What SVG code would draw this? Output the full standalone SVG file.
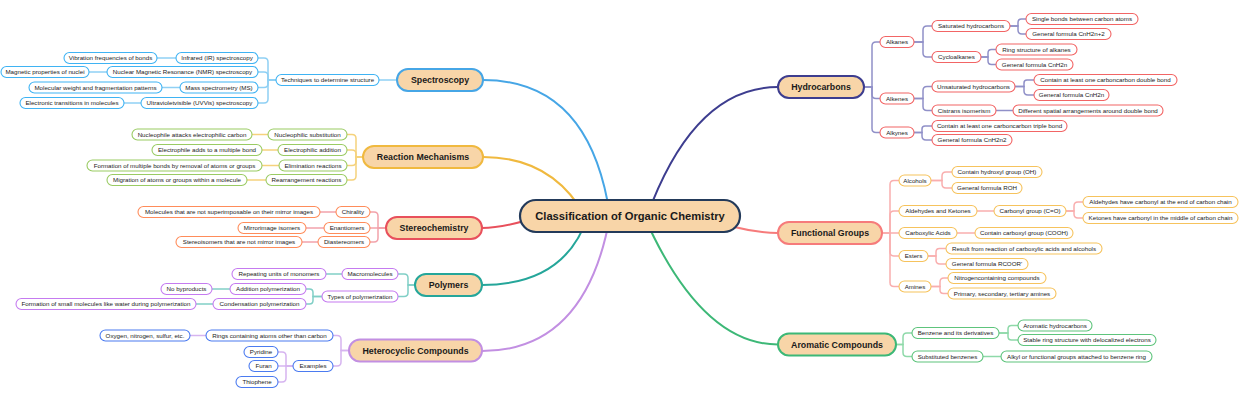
<svg xmlns="http://www.w3.org/2000/svg" width="1240" height="400" viewBox="0 0 1240 400">
<style>
text{font-family:"Liberation Sans",Arial,sans-serif;fill:#1a1a1a;text-anchor:middle}
.lf{fill:#fff;stroke-width:1.1}
.t{font-size:6.2px}
.l1{fill:#f8d5a8;stroke-width:2}
.l1t{font-size:8.8px;font-weight:bold}
.ct{font-size:11.2px;font-weight:bold}
.c path{fill:none;stroke-width:1.5}
.m path{fill:none;stroke-width:2}
.s1{stroke:#8fd0f4}.s2{stroke:#f5d27c}.s3{stroke:#f2a2ab}.s4{stroke:#80cfc6}.s5{stroke:#d6b4f0}.s6{stroke:#9090c8}.s7{stroke:#f9aeae}.s8{stroke:#8ed9a9}
.n1 .lf{stroke:#3fb3f3}.n2 .lf{stroke:#9acb63}.n3 .lf{stroke:#ff8c5a}.n4 .lf{stroke:#c57bf0}.n5 .lf{stroke:#4b7bf0}.n6 .lf{stroke:#f26565}.n7 .lf{stroke:#f6c35d}.n8 .lf{stroke:#5ec47c}
</style>
<rect width="1240" height="400" fill="#fff"/>
<g id="connectors">
<g class="m">
<path d="M483,80 Q590,80 610,216" stroke="#46a6e6"/>
<path d="M483,157 Q552,157 585,216" stroke="#f0b93f"/>
<path d="M482,228 Q505,228 540,216" stroke="#e8505c"/>
<path d="M482,285 Q565,285 588,216" stroke="#25a69a"/>
<path d="M482,351 Q586,351 610,216" stroke="#c28fe2"/>
<path d="M778,87 Q694,87 647,216" stroke="#3d3d8f"/>
<path d="M778,233 Q745,233 700,216" stroke="#f67b7b"/>
<path d="M778,344.5 Q701,344.5 644,216" stroke="#3db877"/>
</g>
<g class="c">
<g class="s1">
<path d="M379,80 H397"/>
<path d="M258,58 H264 Q268,58 268,62 V80 H276"/>
<path d="M258,72 H264 Q268,72 268,76 V80 H276"/>
<path d="M258,87.5 H264 Q268,87.5 268,83.5 V80 H276"/>
<path d="M258,103 H264 Q268,103 268,99 V80 H276"/>
<path d="M157,58 H176"/><path d="M89,72 H107"/><path d="M162,87.5 H180"/><path d="M124,103 H141"/>
</g>
<g class="s2">
<path d="M347,134.5 H352 Q356,134.5 356,138.5 V157 H363"/>
<path d="M347,150 H352 Q356,150 356,154 V157 H363"/>
<path d="M347,165.5 H352 Q356,165.5 356,161.5 V157 H363"/>
<path d="M347,180 H352 Q356,180 356,176 V157 H363"/>
<path d="M252,134.5 H268"/><path d="M262,150 H278"/><path d="M262,165.5 H279"/><path d="M247,180 H266"/>
</g>
<g class="s3">
<path d="M370,212 H374 Q378,212 378,216 V228 H386"/>
<path d="M370,228 H386"/>
<path d="M370,242 H374 Q378,242 378,238 V228 H386"/>
<path d="M320,212 H336"/><path d="M306,228 H324"/><path d="M302,242 H318"/>
</g>
<g class="s4">
<path d="M398,274 H404 Q408,274 408,278 V285 H415"/>
<path d="M398,296.5 H404 Q408,296.5 408,292.5 V285 H415"/>
<path d="M326,274 H342"/>
<path d="M306,289 H309.5 Q313,289 313,292.5 V296.5 H322"/>
<path d="M306,304 H309.5 Q313,304 313,300.5 V296.5 H322"/>
<path d="M212,289 H230"/><path d="M196,304 H213"/>
</g>
<g class="s5">
<path d="M333,335.5 H337 Q341,335.5 341,339.5 V350.5 H349"/>
<path d="M333,366 H337 Q341,366 341,362 V350.5 H349"/>
<path d="M190,335.5 H206"/>
<path d="M278,352 H282 Q286,352 286,356 V366 H293"/>
<path d="M278,366 H293"/>
<path d="M278,382 H282 Q286,382 286,378 V366 H293"/>
</g>
<g class="s6">
<path d="M880,42 H876 Q872,42 872,46 V87 H864"/>
<path d="M880,98.5 H876 Q872,98.5 872,94.5 V87 H864"/>
<path d="M880,132.5 H876 Q872,132.5 872,128.5 V87 H864"/>
<path d="M932,26 H927 Q923,26 923,30 V42 H914"/>
<path d="M932,57 H927 Q923,57 923,53 V42 H914"/>
<path d="M1026,19 H1021.5 Q1018,19 1018,22.5 V26 H1010"/>
<path d="M1026,34 H1022 Q1018,34 1018,30 V26 H1010"/>
<path d="M996,49.5 H991.5 Q988,49.5 988,53 V57 H981"/>
<path d="M996,64.5 H991.5 Q988,64.5 988,61 V57 H981"/>
<path d="M932,86.5 H927 Q923,86.5 923,90.5 V98.5 H914"/>
<path d="M932,110.5 H927 Q923,110.5 923,106.5 V98.5 H914"/>
<path d="M1034,80 H1027 Q1024,80 1024,83 V86.5 H1015"/>
<path d="M1034,95 H1028 Q1024,95 1024,91 V86.5 H1015"/>
<path d="M996,110.5 H1013"/>
<path d="M932,126 H925 Q922,126 922,129 V132.5 H914"/>
<path d="M932,140 H926 Q922,140 922,136 V132.5 H914"/>
</g>
<g class="s7">
<path d="M899,180.5 H894 Q890,180.5 890,184.5 V233 H882"/>
<path d="M899,211 H894 Q890,211 890,215 V233 H882"/>
<path d="M899,233 H882"/>
<path d="M899,256 H894 Q890,256 890,252 V233 H882"/>
<path d="M899,286.5 H894 Q890,286.5 890,282.5 V233 H882"/>
<path d="M952,172 H946 Q942,172 942,176 V180.5 H931"/>
<path d="M952,188 H946 Q942,188 942,184 V180.5 H931"/>
<path d="M977,211 H994"/>
<path d="M1083,202 H1078 Q1074,202 1074,206 V211 H1066"/>
<path d="M1083,218 H1078 Q1074,218 1074,214 V211 H1066"/>
<path d="M957,233 H975"/>
<path d="M946,248.5 H939.5 Q936,248.5 936,252 V256 H928"/>
<path d="M946,264 H940 Q936,264 936,260 V256 H928"/>
<path d="M948,278 H944 Q940,278 940,282 V286.5 H931"/>
<path d="M948,293.5 H943.5 Q940,293.5 940,290 V286.5 H931"/>
</g>
<g class="s8">
<path d="M912,333 H907 Q903,333 903,337 V344.5 H896"/>
<path d="M912,356.5 H907 Q903,356.5 903,352.5 V344.5 H896"/>
<path d="M1018,325.5 H1011.5 Q1008,325.5 1008,329 V333 H999"/>
<path d="M1018,340 H1011.5 Q1008,340 1008,336.5 V333 H999"/>
<path d="M983,356.5 H1001"/>
</g>
</g>
</g>

<g id="root"><rect x="520" y="200" width="220" height="32" rx="16" fill="#f8d5a8" stroke="#233a5a" stroke-width="2.2"/><text class="ct" x="630" y="220">Classification of Organic Chemistry</text></g>

<g id="spectroscopy" class="n1">
<g id="n-spec"><rect class="l1" x="397" y="69" width="86" height="22" rx="11" stroke="#46a6e6"/><text class="l1t" x="440" y="83.1">Spectroscopy</text></g>
<g id="n-tech"><rect class="lf" x="276" y="74.5" width="103" height="11" rx="5.5"/><text class="t" x="327.5" y="82.2">Techniques to determine structure</text></g>
<g id="n-ir"><rect class="lf" x="176" y="52.5" width="82" height="11" rx="5.5"/><text class="t" x="217" y="60.2">Infrared (IR) spectroscopy</text></g>
<g id="n-vib"><rect class="lf" x="64" y="52.5" width="93" height="11" rx="5.5"/><text class="t" x="110.5" y="60.2">Vibration frequencies of bonds</text></g>
<g id="n-nmr"><rect class="lf" x="107" y="66.5" width="151" height="11" rx="5.5"/><text class="t" x="182.5" y="74.2">Nuclear Magnetic Resonance (NMR) spectroscopy</text></g>
<g id="n-mag"><rect class="lf" x="1" y="66.5" width="88" height="11" rx="5.5"/><text class="t" x="45" y="74.2">Magnetic properties of nuclei</text></g>
<g id="n-ms"><rect class="lf" x="180" y="82" width="78" height="11" rx="5.5"/><text class="t" x="219" y="89.7">Mass spectrometry (MS)</text></g>
<g id="n-mw"><rect class="lf" x="29" y="82" width="133" height="11" rx="5.5"/><text class="t" x="95.5" y="89.7">Molecular weight and fragmentation patterns</text></g>
<g id="n-uv"><rect class="lf" x="141" y="97.5" width="117" height="11" rx="5.5"/><text class="t" x="199.5" y="105.2">Ultravioletvisible (UVVis) spectroscopy</text></g>
<g id="n-et"><rect class="lf" x="20" y="97.5" width="104" height="11" rx="5.5"/><text class="t" x="72" y="105.2">Electronic transitions in molecules</text></g>
</g>

<g id="reaction" class="n2">
<g id="n-rm"><rect class="l1" x="363" y="146" width="120" height="22" rx="11" stroke="#f0b93f"/><text class="l1t" x="423" y="160.1">Reaction Mechanisms</text></g>
<g id="n-ns"><rect class="lf" x="268" y="129" width="79" height="11" rx="5.5"/><text class="t" x="307.5" y="136.7">Nucleophilic substitution</text></g>
<g id="n-nac"><rect class="lf" x="132" y="129" width="120" height="11" rx="5.5"/><text class="t" x="192" y="136.7">Nucleophile attacks electrophilic carbon</text></g>
<g id="n-ea"><rect class="lf" x="278" y="144.5" width="69" height="11" rx="5.5"/><text class="t" x="312.5" y="152.2">Electrophilic addition</text></g>
<g id="n-eam"><rect class="lf" x="152" y="144.5" width="110" height="11" rx="5.5"/><text class="t" x="207" y="152.2">Electrophile adds to a multiple bond</text></g>
<g id="n-el"><rect class="lf" x="279" y="160" width="68" height="11" rx="5.5"/><text class="t" x="313" y="167.7">Elimination reactions</text></g>
<g id="n-fm"><rect class="lf" x="87" y="160" width="175" height="11" rx="5.5"/><text class="t" x="174.5" y="167.7">Formation of multiple bonds by removal of atoms or groups</text></g>
<g id="n-rr"><rect class="lf" x="266" y="174.5" width="81" height="11" rx="5.5"/><text class="t" x="306.5" y="182.2">Rearrangement reactions</text></g>
<g id="n-mg"><rect class="lf" x="107" y="174.5" width="140" height="11" rx="5.5"/><text class="t" x="177" y="182.2">Migration of atoms or groups within a molecule</text></g>
</g>

<g id="stereo" class="n3">
<g id="n-st"><rect class="l1" x="386" y="217" width="96" height="22" rx="11" stroke="#e8505c"/><text class="l1t" x="434" y="231.1">Stereochemistry</text></g>
<g id="n-ch"><rect class="lf" x="336" y="206.5" width="34" height="11" rx="5.5"/><text class="t" x="353" y="214.2">Chirality</text></g>
<g id="n-mol"><rect class="lf" x="138" y="206.5" width="182" height="11" rx="5.5"/><text class="t" x="229" y="214.2">Molecules that are not superimposable on their mirror images</text></g>
<g id="n-en"><rect class="lf" x="324" y="222.5" width="46" height="11" rx="5.5"/><text class="t" x="347" y="230.2">Enantiomers</text></g>
<g id="n-mi"><rect class="lf" x="238" y="222.5" width="68" height="11" rx="5.5"/><text class="t" x="272" y="230.2">Mirrorimage isomers</text></g>
<g id="n-di"><rect class="lf" x="318" y="236.5" width="52" height="11" rx="5.5"/><text class="t" x="344" y="244.2">Diastereomers</text></g>
<g id="n-sn"><rect class="lf" x="176" y="236.5" width="126" height="11" rx="5.5"/><text class="t" x="239" y="244.2">Stereoisomers that are not mirror images</text></g>
</g>

<g id="polymers" class="n4">
<g id="n-po"><rect class="l1" x="415" y="274" width="67" height="22" rx="11" stroke="#25a69a"/><text class="l1t" x="448.5" y="288.1">Polymers</text></g>
<g id="n-mac"><rect class="lf" x="342" y="268.5" width="56" height="11" rx="5.5"/><text class="t" x="370" y="276.2">Macromolecules</text></g>
<g id="n-rep"><rect class="lf" x="232" y="268.5" width="94" height="11" rx="5.5"/><text class="t" x="279" y="276.2">Repeating units of monomers</text></g>
<g id="n-tp"><rect class="lf" x="322" y="291" width="76" height="11" rx="5.5"/><text class="t" x="360" y="298.7">Types of polymerization</text></g>
<g id="n-ap"><rect class="lf" x="230" y="283.5" width="76" height="11" rx="5.5"/><text class="t" x="268" y="291.2">Addition polymerization</text></g>
<g id="n-nb"><rect class="lf" x="161" y="283.5" width="51" height="11" rx="5.5"/><text class="t" x="186.5" y="291.2">No byproducts</text></g>
<g id="n-cp"><rect class="lf" x="213" y="298.5" width="93" height="11" rx="5.5"/><text class="t" x="259.5" y="306.2">Condensation polymerization</text></g>
<g id="n-fs"><rect class="lf" x="16" y="298.5" width="180" height="11" rx="5.5"/><text class="t" x="106" y="306.2">Formation of small molecules like water during polymerization</text></g>
</g>

<g id="heterocyclic" class="n5">
<g id="n-hc"><rect class="l1" x="349" y="339.5" width="133" height="22" rx="11" stroke="#c28fe2"/><text class="l1t" x="415.5" y="353.6">Heterocyclic Compounds</text></g>
<g id="n-rc"><rect class="lf" x="206" y="330" width="127" height="11" rx="5.5"/><text class="t" x="269.5" y="337.7">Rings containing atoms other than carbon</text></g>
<g id="n-ox"><rect class="lf" x="100" y="330" width="90" height="11" rx="5.5"/><text class="t" x="145" y="337.7">Oxygen, nitrogen, sulfur, etc.</text></g>
<g id="n-ex"><rect class="lf" x="293" y="360.5" width="40" height="11" rx="5.5"/><text class="t" x="313" y="368.2">Examples</text></g>
<g id="n-py"><rect class="lf" x="244" y="346.5" width="34" height="11" rx="5.5"/><text class="t" x="261" y="354.2">Pyridine</text></g>
<g id="n-fu"><rect class="lf" x="249" y="360.5" width="29" height="11" rx="5.5"/><text class="t" x="263.5" y="368.2">Furan</text></g>
<g id="n-th"><rect class="lf" x="236" y="376.5" width="42" height="11" rx="5.5"/><text class="t" x="257" y="384.2">Thiophene</text></g>
</g>

<g id="hydrocarbons" class="n6">
<g id="n-hy"><rect class="l1" x="778" y="76" width="86" height="22" rx="11" stroke="#3d3d8f"/><text class="l1t" x="821" y="90.1">Hydrocarbons</text></g>
<g id="n-alka"><rect class="lf" x="880" y="36.5" width="34" height="11" rx="5.5"/><text class="t" x="897" y="44.2">Alkanes</text></g>
<g id="n-alke"><rect class="lf" x="880" y="93" width="34" height="11" rx="5.5"/><text class="t" x="897" y="100.7">Alkenes</text></g>
<g id="n-alky"><rect class="lf" x="880" y="127" width="34" height="11" rx="5.5"/><text class="t" x="897" y="134.7">Alkynes</text></g>
<g id="n-sat"><rect class="lf" x="932" y="20.5" width="78" height="11" rx="5.5"/><text class="t" x="971" y="28.2">Saturated hydrocarbons</text></g>
<g id="n-sb"><rect class="lf" x="1026" y="13.5" width="112" height="11" rx="5.5"/><text class="t" x="1082" y="21.2">Single bonds between carbon atoms</text></g>
<g id="n-gf1"><rect class="lf" x="1026" y="28.5" width="85" height="11" rx="5.5"/><text class="t" x="1068.5" y="36.2">General formula CnH2n+2</text></g>
<g id="n-cy"><rect class="lf" x="932" y="51.5" width="49" height="11" rx="5.5"/><text class="t" x="956.5" y="59.2">Cycloalkanes</text></g>
<g id="n-rs"><rect class="lf" x="996" y="44" width="81" height="11" rx="5.5"/><text class="t" x="1036.5" y="51.7">Ring structure of alkanes</text></g>
<g id="n-gf2"><rect class="lf" x="996" y="59" width="77" height="11" rx="5.5"/><text class="t" x="1034.5" y="66.7">General formula CnH2n</text></g>
<g id="n-un"><rect class="lf" x="932" y="81" width="83" height="11" rx="5.5"/><text class="t" x="973.5" y="88.7">Unsaturated hydrocarbons</text></g>
<g id="n-cd"><rect class="lf" x="1034" y="74.5" width="143" height="11" rx="5.5"/><text class="t" x="1105.5" y="82.2">Contain at least one carboncarbon double bond</text></g>
<g id="n-gf3"><rect class="lf" x="1034" y="89.5" width="75" height="11" rx="5.5"/><text class="t" x="1071.5" y="97.2">General formula CnH2n</text></g>
<g id="n-ct"><rect class="lf" x="932" y="105" width="64" height="11" rx="5.5"/><text class="t" x="964" y="112.7">Cistrans isomerism</text></g>
<g id="n-ds"><rect class="lf" x="1013" y="105" width="150" height="11" rx="5.5"/><text class="t" x="1088" y="112.7">Different spatial arrangements around double bond</text></g>
<g id="n-tb"><rect class="lf" x="932" y="120.5" width="135" height="11" rx="5.5"/><text class="t" x="999.5" y="128.2">Contain at least one carboncarbon triple bond</text></g>
<g id="n-gf4"><rect class="lf" x="932" y="134.5" width="80" height="11" rx="5.5"/><text class="t" x="972" y="142.2">General formula CnH2n2</text></g>
</g>

<g id="functional" class="n7">
<g id="n-fg"><rect class="l1" x="778" y="222" width="104" height="22" rx="11" stroke="#f67b7b"/><text class="l1t" x="830" y="236.1">Functional Groups</text></g>
<g id="n-alc"><rect class="lf" x="899" y="175" width="32" height="11" rx="5.5"/><text class="t" x="915" y="182.7">Alcohols</text></g>
<g id="n-oh"><rect class="lf" x="952" y="166.5" width="90" height="11" rx="5.5"/><text class="t" x="997" y="174.2">Contain hydroxyl group (OH)</text></g>
<g id="n-roh"><rect class="lf" x="952" y="182.5" width="70" height="11" rx="5.5"/><text class="t" x="987" y="190.2">General formula ROH</text></g>
<g id="n-ak"><rect class="lf" x="899" y="205.5" width="78" height="11" rx="5.5"/><text class="t" x="938" y="213.2">Aldehydes and Ketones</text></g>
<g id="n-co"><rect class="lf" x="994" y="205.5" width="72" height="11" rx="5.5"/><text class="t" x="1030" y="213.2">Carbonyl group (C=O)</text></g>
<g id="n-ald"><rect class="lf" x="1083" y="196.5" width="155" height="11" rx="5.5"/><text class="t" x="1160.5" y="204.2">Aldehydes have carbonyl at the end of carbon chain</text></g>
<g id="n-ket"><rect class="lf" x="1083" y="212.5" width="155" height="11" rx="5.5"/><text class="t" x="1160.5" y="220.2">Ketones have carbonyl in the middle of carbon chain</text></g>
<g id="n-ca"><rect class="lf" x="899" y="227.5" width="58" height="11" rx="5.5"/><text class="t" x="928" y="235.2">Carboxylic Acids</text></g>
<g id="n-cooh"><rect class="lf" x="975" y="227.5" width="98" height="11" rx="5.5"/><text class="t" x="1024" y="235.2">Contain carboxyl group (COOH)</text></g>
<g id="n-es"><rect class="lf" x="899" y="250.5" width="29" height="11" rx="5.5"/><text class="t" x="913.5" y="258.2">Esters</text></g>
<g id="n-rf"><rect class="lf" x="946" y="243" width="156" height="11" rx="5.5"/><text class="t" x="1024" y="250.7">Result from reaction of carboxylic acids and alcohols</text></g>
<g id="n-rco"><rect class="lf" x="946" y="258.5" width="82" height="11" rx="5.5"/><text class="t" x="987" y="266.2">General formula RCOOR'</text></g>
<g id="n-am"><rect class="lf" x="899" y="281" width="32" height="11" rx="5.5"/><text class="t" x="915" y="288.7">Amines</text></g>
<g id="n-nc"><rect class="lf" x="948" y="272.5" width="98" height="11" rx="5.5"/><text class="t" x="997" y="280.2">Nitrogencontaining compounds</text></g>
<g id="n-pst"><rect class="lf" x="948" y="288" width="108" height="11" rx="5.5"/><text class="t" x="1002" y="295.7">Primary, secondary, tertiary amines</text></g>
</g>

<g id="aromatic" class="n8">
<g id="n-ar"><rect class="l1" x="778" y="333.5" width="118" height="22" rx="11" stroke="#3db877"/><text class="l1t" x="837" y="347.6">Aromatic Compounds</text></g>
<g id="n-bz"><rect class="lf" x="912" y="327.5" width="87" height="11" rx="5.5"/><text class="t" x="955.5" y="335.2">Benzene and its derivatives</text></g>
<g id="n-ah"><rect class="lf" x="1018" y="320" width="74" height="11" rx="5.5"/><text class="t" x="1055" y="327.7">Aromatic hydrocarbons</text></g>
<g id="n-sr"><rect class="lf" x="1018" y="334.5" width="138" height="11" rx="5.5"/><text class="t" x="1087" y="342.2">Stable ring structure with delocalized electrons</text></g>
<g id="n-sbz"><rect class="lf" x="912" y="351" width="71" height="11" rx="5.5"/><text class="t" x="947.5" y="358.7">Substituted benzenes</text></g>
<g id="n-alk"><rect class="lf" x="1001" y="351" width="151" height="11" rx="5.5"/><text class="t" x="1076.5" y="358.7">Alkyl or functional groups attached to benzene ring</text></g>
</g>
</svg>
